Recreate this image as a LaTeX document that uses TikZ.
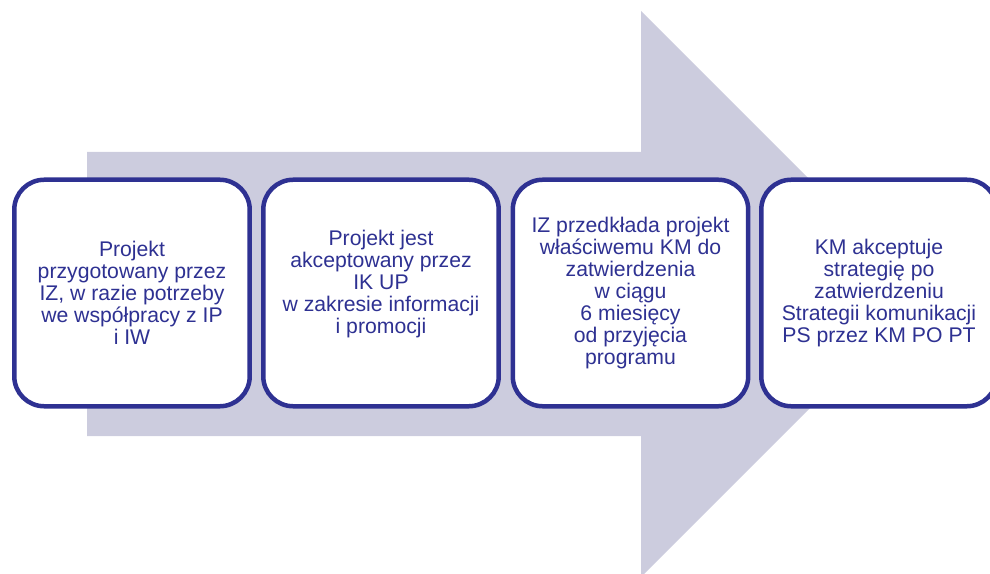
\documentclass[tikz,border=0pt]{standalone}
\usepackage{fontspec}
\setmainfont{Liberation Sans}
\definecolor{arrowfill}{RGB}{204,204,222}
\definecolor{navy}{RGB}{46,49,146}
\begin{document}
\begin{tikzpicture}[x=0.75pt,y=-0.75pt,
  stepbox/.style={draw=navy, line width=3.375pt, fill=white, rounded corners=22.5pt,
    minimum width=176.6pt, minimum height=169.9pt, inner sep=0pt, outer sep=0pt,
    align=center, text=navy, font=\fontsize{15.9}{16.55}\selectfont}]
\useasboundingbox (0,0) rectangle (990,574);
\clip (0,0) rectangle (990,574);
\fill[arrowfill] (87,152) -- (641,152) -- (641,11) -- (924,294) -- (641,577) -- (641,436) -- (87,436) -- cycle;
\node[stepbox] (b1) at (132,293) {Projekt\\przygotowany przez\\IZ, w razie potrzeby\\we współpracy z IP\\i IW};
\node[stepbox] (b2) at (381,293) {Projekt jest\\akceptowany przez\\IK UP\\w zakresie informacji\\i promocji\\\mbox{}};
\node[stepbox] (b3) at (630.5,293) {IZ przedkłada projekt\\właściwemu KM do\\zatwierdzenia\\w ciągu\\6 miesięcy\\od przyjęcia\\programu};
\node[stepbox] (b4) at (879,293) {KM akceptuje\\strategię po\\zatwierdzeniu\\Strategii komunikacji\\PS przez KM PO PT};
\end{tikzpicture}
\end{document}
